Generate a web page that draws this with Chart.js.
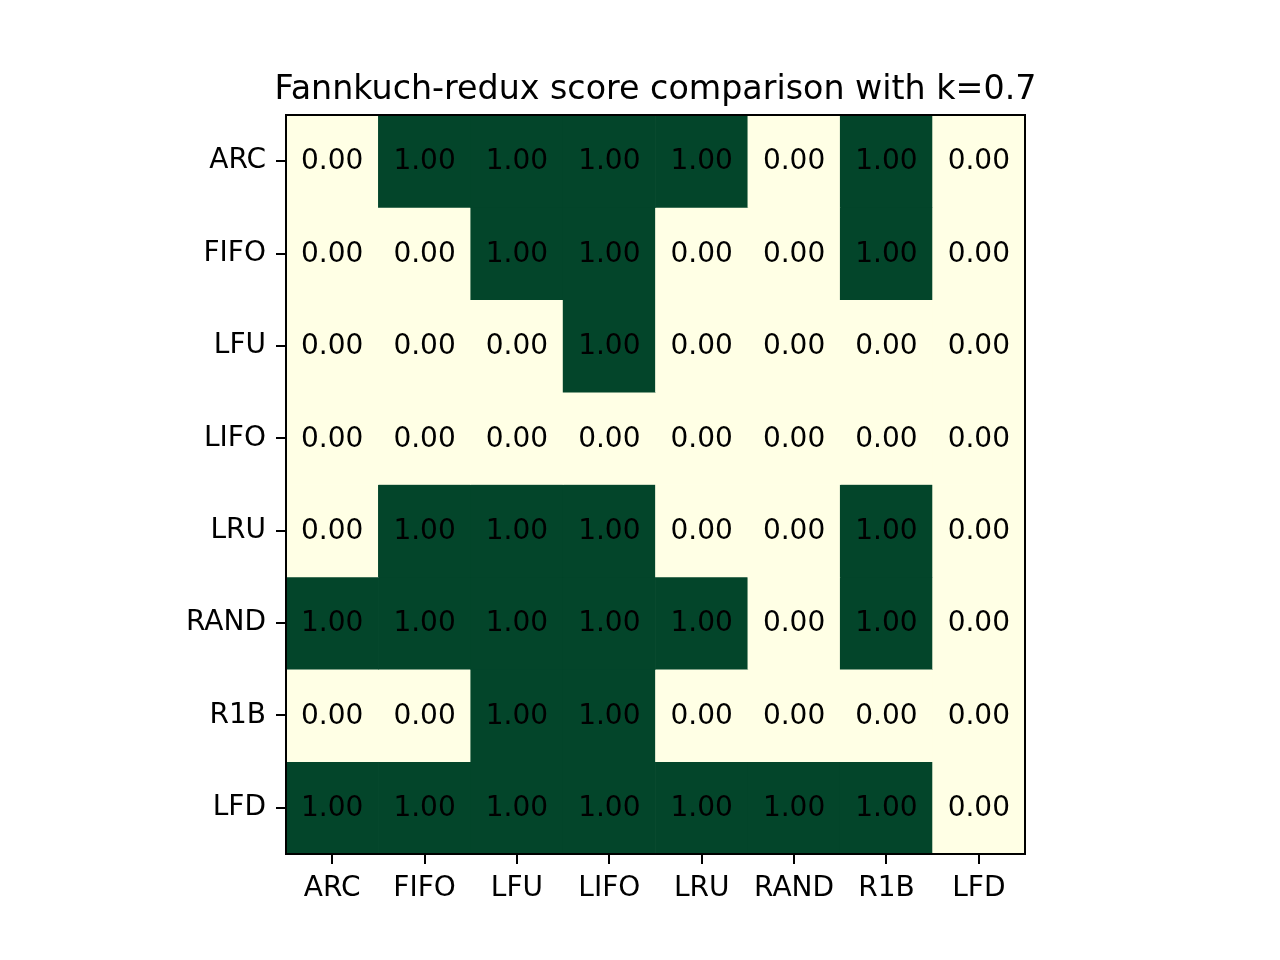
<!DOCTYPE html>
<html>
<head>
<meta charset="utf-8">
<script src="https://cdn.jsdelivr.net/npm/chart.js@4/dist/chart.umd.min.js"></script>
<style>
  html, body { margin: 0; padding: 0; background: #fff; }
  canvas { display: block; }
</style>
</head>
<body>
<canvas id="chart" width="1280" height="960"></canvas>
<script>
const policies = ['ARC', 'FIFO', 'LFU', 'LIFO', 'LRU', 'RAND', 'R1B', 'LFD'];
const rowNames = ['ARC', 'FIFO', 'LFU', 'LIFO', 'LRU', 'RAND', 'R1B', 'LFD'];
const chartTitle = 'Fannkuch-redux score comparison with k=0.7';

// score per row (y policy) against each column (x policy)
const rowARC  = [0, 1, 1, 1, 1, 0, 1, 0];
const rowFIFO = [0, 0, 1, 1, 0, 0, 1, 0];
const rowLFU  = [0, 0, 0, 1, 0, 0, 0, 0];
const rowLIFO = [0, 0, 0, 0, 0, 0, 0, 0];
const rowLRU  = [0, 1, 1, 1, 0, 0, 1, 0];
const rowRAND = [1, 1, 1, 1, 1, 0, 1, 0];
const rowR1B  = [0, 0, 1, 1, 0, 0, 0, 0];
const rowLFD  = [1, 1, 1, 1, 1, 1, 1, 0];
const scores = [rowARC, rowFIFO, rowLFU, rowLIFO, rowLRU, rowRAND, rowR1B, rowLFD];

const LOW = '#ffffe5';
const HIGH = '#03452a';
const FONT = "'DejaVu Sans', sans-serif";

const datasets = scores.map((row, i) => ({
  label: rowNames[i],
  data: row.map(() => 1),
  backgroundColor: row.map(v => v >= 0.5 ? HIGH : LOW),
  borderWidth: 0,
  barPercentage: 1,
  categoryPercentage: 1
}));

const cellText = {
  id: 'cellText',
  afterDatasetsDraw(chart) {
    const { ctx, scales: { x, y }, chartArea } = chart;
    ctx.save();
    ctx.font = '28px ' + FONT;
    ctx.fillStyle = '#000';
    ctx.textAlign = 'center';
    ctx.textBaseline = 'middle';
    scores.forEach((row, r) => {
      row.forEach((v, c) => {
        ctx.fillText(v.toFixed(2), x.getPixelForValue(c), y.getPixelForValue(r + 0.5) + 1);
      });
    });
    // axes frame
    ctx.strokeStyle = '#000';
    ctx.lineWidth = 2;
    ctx.strokeRect(chartArea.left, chartArea.top,
      chartArea.right - chartArea.left, chartArea.bottom - chartArea.top);
    // title centred over the axes, allowed to run wider than them
    ctx.font = '33.3px ' + FONT;
    ctx.fillText(chartTitle, (chartArea.left + chartArea.right) / 2, chartArea.top - 25);
    ctx.restore();
  }
};

new Chart(document.getElementById('chart').getContext('2d'), {
  type: 'bar',
  data: { labels: policies, datasets: datasets },
  options: {
    responsive: false,
    animation: false,
    layout: { padding: { left: 0, right: 255, top: 115, bottom: 0 } },
    plugins: {
      legend: { display: false },
      tooltip: { enabled: false },
      title: { display: false }
    },
    scales: {
      x: {
        stacked: true,
        offset: true,
        grid: { drawOnChartArea: false, drawTicks: true, tickLength: 10, lineWidth: 2, color: '#000', offset: false },
        border: { display: false },
        ticks: { color: '#000', font: { family: FONT, size: 28 }, padding: 8, maxRotation: 0 },
        afterFit(axis) { axis.height = 106; }
      },
      y: {
        stacked: true,
        reverse: true,
        min: 0,
        max: 8,
        grid: { drawOnChartArea: false, drawTicks: true, tickLength: 10, lineWidth: 2, color: '#000' },
        border: { display: false },
        afterBuildTicks(axis) {
          axis.ticks = rowNames.map((_, i) => ({ value: i + 0.5 }));
        },
        ticks: {
          color: '#000',
          font: { family: FONT, size: 28 },
          padding: 10,
          callback: (v, i) => rowNames[i]
        },
        afterFit(axis) { axis.width = 286; }
      }
    }
  },
  plugins: [cellText]
});
</script>
</body>
</html>
